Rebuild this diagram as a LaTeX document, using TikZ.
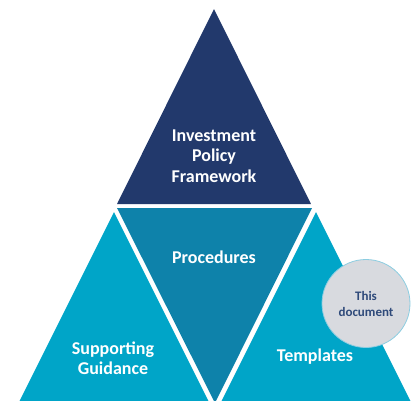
\documentclass[tikz,border=0pt]{standalone}
\usepackage{fontspec}
\setmainfont{Carlito}
\definecolor{navy}{RGB}{34,57,108}
\definecolor{midteal}{RGB}{14,130,170}
\definecolor{sideteal}{RGB}{0,165,200}
\definecolor{discfill}{RGB}{216,218,223}
\definecolor{discline}{RGB}{140,205,225}
\definecolor{disctext}{RGB}{47,74,122}
\tikzset{
  label/.style={text=white, font=\bfseries\fontsize{18}{20.5}\selectfont, align=center, inner sep=0pt},
  disc/.style={circle, fill=discfill, draw=discline, line width=0.8pt, minimum size=88pt, inner sep=0pt,
    text=disctext, font=\bfseries\fontsize{13}{16}\selectfont, align=center}
}
\begin{document}
\begin{tikzpicture}[x=1pt,y=-1pt]
\useasboundingbox (0,0) rectangle (416,400);
\begin{scope}
  \clip (0,0) rectangle (416,400);
  % apex triangle
  \fill[navy] (214,9) -- (311,204) -- (117,204) -- cycle;
  % inverted centre triangle
  \fill[midteal] (117,208) -- (312,208) -- (215,403) -- cycle;
  % lower left and lower right triangles
  \fill[sideteal] (114,212) -- (209,402) -- (19,402) -- cycle;
  \fill[sideteal] (316,212) -- (411,402) -- (221,402) -- cycle;
\end{scope}
\node[label] (ipf) at (214,156) {Investment\\Policy\\Framework};
\node[label] (proc) at (214,257) {Procedures};
\node[label] (supp) at (113,358) {Supporting\\Guidance};
\node[label] (tmpl) at (315,357) {Templates};
\node[disc] (doc) at (366,303.5) {This\\document};
\end{tikzpicture}
\end{document}
